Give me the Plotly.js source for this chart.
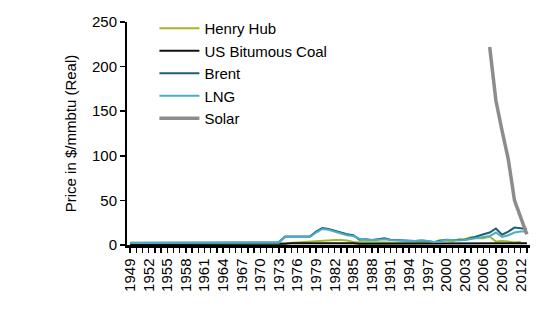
<!DOCTYPE html>
<html>
<head>
<meta charset="utf-8">
<script src="https://cdn.plot.ly/plotly-3.0.1.min.js"></script>
<style>html,body{margin:0;padding:0;background:#fff;}#chart{width:544px;height:315px;}</style>
</head>
<body>
<div id="chart"></div>
<script>
const years = [];
for (let y = 1949; y <= 2013; y++) years.push(y);

const tickYears = [1949,1952,1955,1958,1961,1964,1967,1970,1973,1976,1979,1982,1985,1988,1991,1994,1997,2000,2003,2006,2009,2012];

const henryHub = [
  0.8,0.8,0.8,0.8,0.8,0.8,0.8,0.8,0.8,0.8,
  1.0,1.0,1.0,1.0,1.0,1.0,1.0,1.0,1.0,1.0,1.0,1.0,1.0,1.0,
  1.5,2.0,2.5,3.0,3.5,
  4.0,4.5,5.0,5.5,5.5,5.5,5.0,
  3.5,3.0,3.0,3.0,3.0,2.5,2.8,3.0,2.8,2.3,3.5,3.5,2.8,3.0,
  5.5,5.0,4.0,6.5,6.5,9.0,7.5,7.5,9.5,4.0,4.5,4.0,2.8,3.7
];

const coal = [
  1.0,1.0,1.0,1.0,1.0,1.0,1.0,1.0,1.0,1.0,
  1.0,1.0,1.0,1.0,1.0,1.0,1.0,1.0,1.0,1.0,1.0,1.0,1.0,1.0,1.0,
  1.5,2.0,2.0,2.0,2.0,
  2.8,2.5,2.3,2.2,2.1,2.0,2.0,
  1.5,1.5,1.5,1.5,1.5,1.5,1.5,1.5,1.5,1.5,1.5,1.5,1.5,1.5,1.5,1.5,1.5,1.5,1.5,
  2.0,2.0,2.0,2.0,2.0,2.0,2.0,2.0,2.0
];

const brent = [
  2.5,2.5,2.5,2.5,2.5,2.5,2.5,2.5,2.5,2.5,
  2.5,2.5,2.5,2.5,2.5,2.5,2.5,2.5,2.5,2.5,2.5,2.5,2.5,2.5,3.0,
  9.5,9.5,9.5,9.5,9.5,
  15,19,18,16,14,12,11,
  6,6.5,5.5,6.5,7.5,6,5.5,5,4.5,4.5,5,4.5,3,4.5,
  6,5.5,5.5,6,7.5,10,12,14,18.5,11.5,15,19.5,19,18
];

const lng = [
  2.2,2.2,2.2,2.2,2.2,2.2,2.2,2.2,2.2,2.2,
  2.2,2.2,2.2,2.2,2.2,2.2,2.2,2.2,2.2,2.2,2.2,2.2,2.2,2.2,2.5,
  9,9,9,9,9,
  14,18,17,15,13,11,10,
  7,6,5.5,6,6.5,5.5,5,4.5,4.5,4.5,5,4.5,3.5,4,
  5.5,5.5,5,5.5,6.5,8,9,10,14,9,11,14,15,15
];

const solar = [];
for (let i = 0; i < 58; i++) solar.push(null);
solar.push(222,162,128,96,50,32,12);

const seriesNames = ['Henry Hub','US Bitumous Coal','Brent','LNG','Solar'];
const seriesData = [henryHub, coal, brent, lng, solar];
const seriesColors = ['#9BBB2A','#111111','#1F5F78','#4BACC6','#8C8C8C'];
const seriesWidths = [2,2,2,2,3.5];

const traces = seriesNames.map((n, i) => ({
  x: years,
  y: seriesData[i],
  name: n,
  type: 'scatter',
  mode: 'lines',
  legendgroup: 'g' + i,
  line: {color: seriesColors[i], width: seriesWidths[i]},
  connectgaps: false
}));

const fam = 'Liberation Sans, Arial, sans-serif';
const font = {family: fam, size: 15, color: '#000'};

const layout = {
  width: 544, height: 315,
  margin: {l: 127, r: 14, t: 18, b: 70},
  paper_bgcolor: '#fff', plot_bgcolor: '#fff',
  font: font,
  showlegend: true,
  legend: {
    x: 0.068, y: 1.045, xanchor: 'left', yanchor: 'top',
    bgcolor: 'rgba(0,0,0,0)', font: {family: fam, size: 15, color: '#000'},
    tracegroupgap: 0, itemwidth: 40
  },
  xaxis: {
    type: 'linear',
    range: [1948.5, 2013.5],
    tickmode: 'array', tickvals: tickYears, ticktext: tickYears.map(String),
    tickangle: -90,
    ticks: 'outside', ticklen: 5, tickwidth: 1.5, tickcolor: '#000',
    minor: {dtick: 1, tick0: 1949, ticks: 'outside', ticklen: 5, tickwidth: 1.5, tickcolor: '#000'},
    showline: true, linecolor: '#000', linewidth: 2.5,
    showgrid: false, zeroline: false,
    tickfont: {family: fam, size: 15, color: '#000'}
  },
  yaxis: {
    range: [0, 250], tickvals: [0,50,100,150,200,250],
    ticks: 'outside', ticklen: 5, tickwidth: 1.5, tickcolor: '#000',
    showline: true, linecolor: '#000', linewidth: 2,
    showgrid: false, zeroline: false,
    tickfont: {family: fam, size: 15, color: '#000'},
    title: {text: 'Price in $/mmbtu (Real)', font: {family: fam, size: 15, color: '#000'}, standoff: 12}
  }
};

Plotly.newPlot('chart', traces, layout, {displayModeBar: false, staticPlot: true});
</script>
</body>
</html>
